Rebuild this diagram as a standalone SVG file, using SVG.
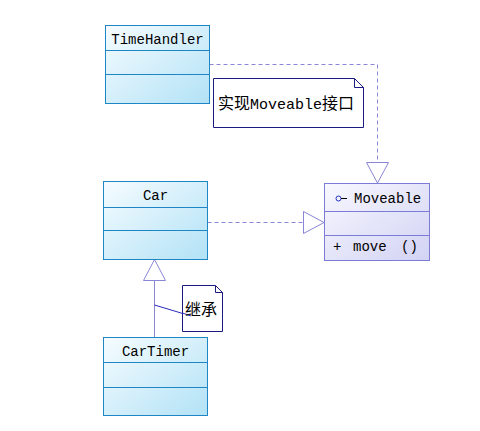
<svg xmlns="http://www.w3.org/2000/svg" width="480" height="431" viewBox="0 0 480 431">
<defs>
<linearGradient id="gc" x1="0" y1="0" x2="1" y2="1">
<stop offset="0" stop-color="#f6fcff"/>
<stop offset="1" stop-color="#b2e2f6"/>
</linearGradient>
<linearGradient id="gi" x1="0" y1="0" x2="1" y2="1">
<stop offset="0" stop-color="#f8f8ff"/>
<stop offset="1" stop-color="#d2d2f4"/>
</linearGradient>
<style>
.cls{fill:url(#gc);stroke:#1f86c6;stroke-width:1}
.ifc{fill:url(#gi);stroke:#7c7cd8;stroke-width:1}
.t{font-family:"Liberation Mono","DejaVu Sans Mono",monospace;font-size:14px;fill:#000}
.n{font-family:"Liberation Mono","Noto Sans CJK SC",monospace;font-size:15px;fill:#000}
.cjk{font-family:"Noto Sans CJK SC",sans-serif;font-size:16px}
.dash{fill:none;stroke:#8a86d6;stroke-width:1;stroke-dasharray:4 3}
.solid{fill:none;stroke:#8a86d6;stroke-width:1}
.tri{fill:#fff;stroke:#8a86d6;stroke-width:1}
.note{fill:#fff;stroke:#1a1a80;stroke-width:1}
</style>
</defs>
<rect width="480" height="431" fill="#fff"/>
<g id="connectors">
<polyline class="dash" points="209.5,64.5 377.5,64.5 377.5,162"/>
<polygon class="tri" points="366.5,162.5 388.5,162.5 377.5,183"/>
<line class="dash" x1="207.5" y1="222.5" x2="303" y2="222.5"/>
<polygon class="tri" points="303.5,211.5 303.5,233.5 324,222.5"/>
<line class="solid" x1="154.5" y1="280" x2="154.5" y2="337"/>
<polygon class="tri" points="143.5,280.5 165.5,280.5 154.5,259.5"/>
</g>
<g id="TimeHandler">
<rect class="cls" x="105.5" y="25.5" width="104" height="78"/>
<line x1="105.5" y1="50.5" x2="209.5" y2="50.5" stroke="#1f86c6"/>
<line x1="105.5" y1="74.5" x2="209.5" y2="74.5" stroke="#1f86c6"/>
<text class="t" x="157.5" y="44" text-anchor="middle">TimeHandler</text>
</g>
<g id="note1">
<path class="note" d="M213.5,78.5 H354.5 L363.5,87.5 V127.5 H213.5 Z"/>
<path d="M354.5,78.5 V87.5 H363.5" fill="none" stroke="#1a1a80"/>
<text class="n" x="218" y="109"><tspan class="cjk">实现</tspan>Moveable<tspan class="cjk">接口</tspan></text>
</g>
<g id="Car">
<rect class="cls" x="103.5" y="181.5" width="104" height="78"/>
<line x1="103.5" y1="207.5" x2="207.5" y2="207.5" stroke="#1f86c6"/>
<line x1="103.5" y1="230.5" x2="207.5" y2="230.5" stroke="#1f86c6"/>
<text class="t" x="155.5" y="200" text-anchor="middle">Car</text>
</g>
<g id="Moveable">
<rect class="ifc" x="324.5" y="183.5" width="105" height="77"/>
<line x1="324.5" y1="211.5" x2="429.5" y2="211.5" stroke="#7c7cd8"/>
<line x1="324.5" y1="235.5" x2="429.5" y2="235.5" stroke="#7c7cd8"/>
<circle cx="338.5" cy="198.5" r="2.5" fill="none" stroke="#2030c0"/>
<line x1="341" y1="198.5" x2="347" y2="198.5" stroke="#000"/>
<text class="t" x="354" y="203">Moveable</text>
<text class="t" y="251"><tspan x="333">+</tspan><tspan x="353">move</tspan><tspan x="401">()</tspan></text>
</g>
<g id="note2">
<line x1="154.5" y1="305" x2="191" y2="316" stroke="#2a2ac0"/>
<path class="note" d="M182.5,285.5 H215.5 L222.5,292.5 V331.5 H182.5 Z"/>
<path d="M215.5,285.5 V292.5 H222.5" fill="none" stroke="#1a1a80"/>
<line x1="182.5" y1="313" x2="191" y2="316" stroke="#2a2ac0"/>
<text class="cjk" x="185" y="315">继承</text>
</g>
<g id="CarTimer">
<rect class="cls" x="103.5" y="337.5" width="104" height="78"/>
<line x1="103.5" y1="362.5" x2="207.5" y2="362.5" stroke="#1f86c6"/>
<line x1="103.5" y1="387.5" x2="207.5" y2="387.5" stroke="#1f86c6"/>
<text class="t" x="155.5" y="356" text-anchor="middle">CarTimer</text>
</g>
</svg>
